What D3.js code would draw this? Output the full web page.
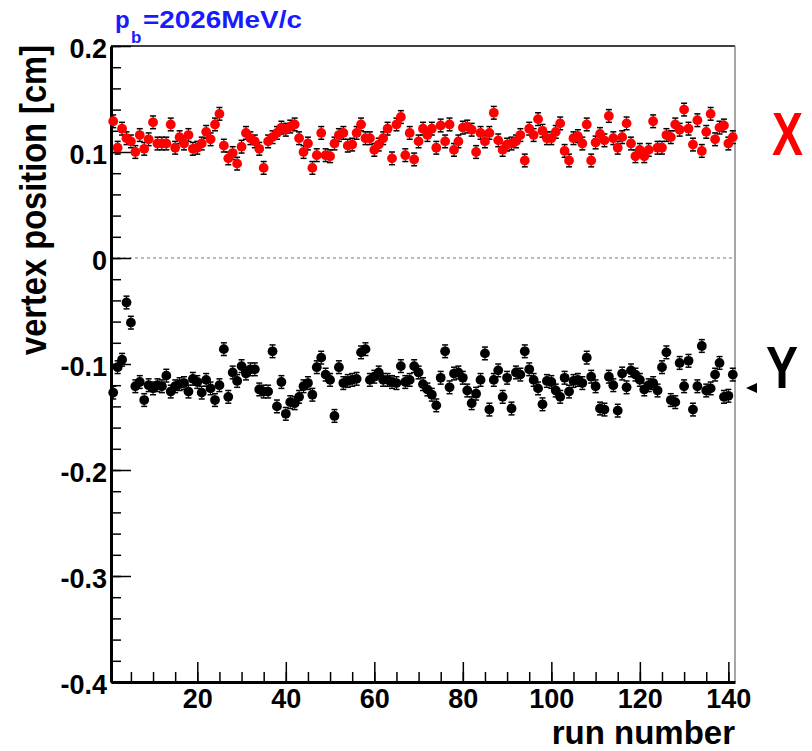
<!DOCTYPE html>
<html>
<head>
<meta charset="utf-8">
<script src="https://cdn.jsdelivr.net/npm/d3@7"></script>
<style>
  body { margin: 0; background: #fff; }
  text { font-family: "Liberation Sans", Arial, sans-serif; font-weight: bold; }
</style>
</head>
<body>
<svg id="container" width="812" height="751"></svg>
<script>
// run numbers 1..141
const runs = d3.range(1, 142);

// vertex X position [cm] per run (red)
const vertexX = [
  0.129, 0.104, 0.122, 0.113, 0.110, 0.100, 0.116, 0.103, 0.112, 0.128,
  0.108, 0.108, 0.108, 0.126, 0.104, 0.114, 0.108, 0.116, 0.103, 0.104,
  0.108, 0.119, 0.112, 0.126, 0.136, 0.106, 0.094, 0.099, 0.089, 0.105,
  0.118, 0.113, 0.110, 0.103, 0.085, 0.110, 0.114, 0.118, 0.123, 0.121,
  0.124, 0.126, 0.113, 0.100, 0.108, 0.085, 0.097, 0.118, 0.097, 0.096,
  0.108, 0.116, 0.118, 0.106, 0.107, 0.118, 0.126, 0.113, 0.113, 0.102,
  0.107, 0.113, 0.122, 0.094, 0.126, 0.133, 0.097, 0.118, 0.093, 0.110,
  0.122, 0.116, 0.122, 0.104, 0.125, 0.110, 0.126, 0.102, 0.110, 0.123,
  0.124, 0.121, 0.100, 0.118, 0.110, 0.118, 0.137, 0.111, 0.102, 0.107,
  0.108, 0.110, 0.116, 0.092, 0.122, 0.116, 0.131, 0.120, 0.113, 0.113,
  0.119, 0.127, 0.101, 0.092, 0.113, 0.115, 0.108, 0.126, 0.092, 0.109,
  0.117, 0.111, 0.134, 0.113, 0.104, 0.114, 0.127, 0.108, 0.096, 0.102,
  0.096, 0.102, 0.129, 0.104, 0.104, 0.116, 0.114, 0.126, 0.121, 0.140,
  0.122, 0.107, 0.130, 0.101, 0.119, 0.136, 0.112, 0.123, 0.125, 0.108,
  0.114
];

// vertex Y position [cm] per run (black)
const vertexY = [
  -0.127, -0.103, -0.096, -0.042, -0.061, -0.121, -0.117, -0.134, -0.120, -0.123,
  -0.120, -0.121, -0.111, -0.126, -0.121, -0.119, -0.118, -0.126, -0.114, -0.117,
  -0.127, -0.115, -0.123, -0.134, -0.120, -0.086, -0.131, -0.108, -0.116, -0.102,
  -0.109, -0.105, -0.105, -0.124, -0.126, -0.126, -0.088, -0.140, -0.117, -0.147,
  -0.136, -0.137, -0.131, -0.121, -0.118, -0.129, -0.103, -0.094, -0.110, -0.115,
  -0.149, -0.103, -0.118, -0.116, -0.115, -0.114, -0.089, -0.086, -0.115, -0.112,
  -0.108, -0.115, -0.115, -0.117, -0.118, -0.102, -0.117, -0.115, -0.102, -0.108,
  -0.119, -0.124, -0.129, -0.139, -0.113, -0.088, -0.122, -0.109, -0.108, -0.113,
  -0.125, -0.137, -0.128, -0.115, -0.090, -0.143, -0.115, -0.106, -0.131, -0.113,
  -0.142, -0.108, -0.110, -0.088, -0.105, -0.115, -0.123, -0.138, -0.116, -0.117,
  -0.125, -0.131, -0.113, -0.126, -0.116, -0.115, -0.118, -0.094, -0.112, -0.121,
  -0.142, -0.143, -0.112, -0.120, -0.144, -0.109, -0.122, -0.106, -0.110, -0.115,
  -0.124, -0.120, -0.118, -0.125, -0.103, -0.089, -0.134, -0.136, -0.099, -0.121,
  -0.097, -0.143, -0.121, -0.083, -0.125, -0.123, -0.110, -0.099, -0.131, -0.130,
  -0.110
];

const errBar = 0.006;

const xTicks = [20, 40, 60, 80, 100, 120, 140];
const yTicks = [0.2, 0.1, 0, -0.1, -0.2, -0.3, -0.4];

const svg = d3.select('#container');
const padL = 111, padR = 735, padT = 46, padB = 682;

const x = d3.scaleLinear().domain([0.5, 141.5]).range([padL, padR]);
const y = d3.scaleLinear().domain([-0.4, 0.2]).range([padB, padT]);

// frame: top black, right gray
svg.append('line').attr('x1', padL).attr('x2', padR).attr('y1', padT).attr('y2', padT)
  .attr('stroke', '#000').attr('stroke-width', 1.5);
svg.append('line').attr('x1', padR).attr('x2', padR).attr('y1', padT).attr('y2', padB)
  .attr('stroke', '#888').attr('stroke-width', 1.5);

// zero line
svg.append('line').attr('x1', padL).attr('x2', padR).attr('y1', y(0)).attr('y2', y(0))
  .attr('stroke', '#777').attr('stroke-width', 1).attr('stroke-dasharray', '3,3');

// minor ticks (inward)
const xMinor = d3.axisBottom(x).tickValues(d3.range(5, 141, 5)).tickSizeInner(-10).tickSizeOuter(0).tickFormat('');
const yMinor = d3.axisLeft(y).tickValues(d3.range(-0.38, 0.2, 0.02)).tickSizeInner(-10).tickSizeOuter(0).tickFormat('');

svg.append('g').attr('transform', `translate(0,${padB})`).call(xMinor)
  .call(g => g.select('.domain').remove())
  .call(g => g.selectAll('line').attr('stroke', '#000').attr('stroke-width', 1.5));
svg.append('g').attr('transform', `translate(${padL},0)`).call(yMinor)
  .call(g => g.select('.domain').remove())
  .call(g => g.selectAll('line').attr('stroke', '#000').attr('stroke-width', 1.5));

// major axes
const xAxis = d3.axisBottom(x).tickValues(xTicks).tickSizeInner(-20).tickSizeOuter(0).tickPadding(10);
const yAxis = d3.axisLeft(y).tickValues(yTicks).tickSizeInner(-20).tickSizeOuter(0).tickPadding(5)
  .tickFormat(d => d === 0 ? '0' : d.toFixed(1));

svg.append('g').attr('transform', `translate(0,${padB})`).call(xAxis)
  .call(g => g.select('.domain').attr('stroke', '#000').attr('stroke-width', 3))
  .call(g => g.selectAll('line').attr('stroke', '#000').attr('stroke-width', 1.5))
  .call(g => g.selectAll('text').attr('font-size', 27).attr('font-weight', 'bold')
    .attr('font-family', '"Liberation Sans", Arial, sans-serif').attr('fill', '#000')
    .attr('dy', null).attr('y', 26));

svg.append('g').attr('transform', `translate(${padL},0)`).call(yAxis)
  .call(g => g.select('.domain').attr('stroke', '#000').attr('stroke-width', 3))
  .call(g => g.selectAll('line').attr('stroke', '#000').attr('stroke-width', 1.5))
  .call(g => g.selectAll('text').attr('font-size', 27).attr('font-weight', 'bold')
    .attr('font-family', '"Liberation Sans", Arial, sans-serif').attr('fill', '#000')
    .attr('dy', null).attr('y', 11).attr('x', -4));

// series
function drawSeries(values, color) {
  const pts = runs.map((r, i) => ({ r: r, v: values[i] }));
  const g = svg.append('g');
  g.selectAll('line.err').data(pts).enter().append('line')
    .attr('x1', d => x(d.r)).attr('x2', d => x(d.r))
    .attr('y1', d => y(d.v - errBar)).attr('y2', d => y(d.v + errBar))
    .attr('stroke', '#000').attr('stroke-width', 1);
  g.selectAll('line.capt').data(pts).enter().append('line')
    .attr('x1', d => x(d.r) - 3).attr('x2', d => x(d.r) + 3)
    .attr('y1', d => y(d.v + errBar)).attr('y2', d => y(d.v + errBar))
    .attr('stroke', '#000').attr('stroke-width', 1.5);
  g.selectAll('line.capb').data(pts).enter().append('line')
    .attr('x1', d => x(d.r) - 3).attr('x2', d => x(d.r) + 3)
    .attr('y1', d => y(d.v - errBar)).attr('y2', d => y(d.v - errBar))
    .attr('stroke', '#000').attr('stroke-width', 1.5);
  g.selectAll('circle').data(pts).enter().append('circle')
    .attr('cx', d => x(d.r)).attr('cy', d => y(d.v)).attr('r', 4.9)
    .attr('fill', color);
}
drawSeries(vertexX, '#ff0000');
drawSeries(vertexY, '#000000');

// titles
svg.append('text').attr('x', 735).attr('y', 744).attr('text-anchor', 'end')
  .attr('font-size', 33).text('run number');

svg.append('text').attr('transform', 'translate(46,45) rotate(-90)').attr('text-anchor', 'end')
  .attr('font-size', 37).attr('textLength', 310).attr('lengthAdjust', 'spacingAndGlyphs')
  .text('vertex position [cm]');

// beam momentum label
const title = svg.append('text').attr('fill', '#1a1aff').attr('font-size', 24);
title.append('tspan').attr('x', 115).attr('y', 28).text('p');
title.append('tspan').attr('x', 131).attr('y', 43).attr('font-size', 17).text('b');
title.append('tspan').attr('x', 143).attr('y', 28).attr('textLength', 159)
  .attr('lengthAdjust', 'spacingAndGlyphs').text('=2026MeV/c');

// X / Y side labels
svg.append('text').attr('x', 772).attr('y', 155).attr('fill', '#ff0000')
  .attr('font-family', '"Liberation Sans Narrow", "DejaVu Sans Condensed", sans-serif')
  .attr('font-size', 62).attr('textLength', 31).attr('lengthAdjust', 'spacingAndGlyphs').text('X');
svg.append('text').attr('x', 766).attr('y', 388).attr('fill', '#000')
  .attr('font-family', '"Liberation Sans Narrow", "DejaVu Sans Condensed", sans-serif')
  .attr('font-size', 60).attr('textLength', 32).attr('lengthAdjust', 'spacingAndGlyphs').text('Y');
svg.append('path').attr('d', d3.line()([[746, 388], [757, 383], [757, 393]]) + 'Z').attr('fill', '#000');
</script>
</body>
</html>
